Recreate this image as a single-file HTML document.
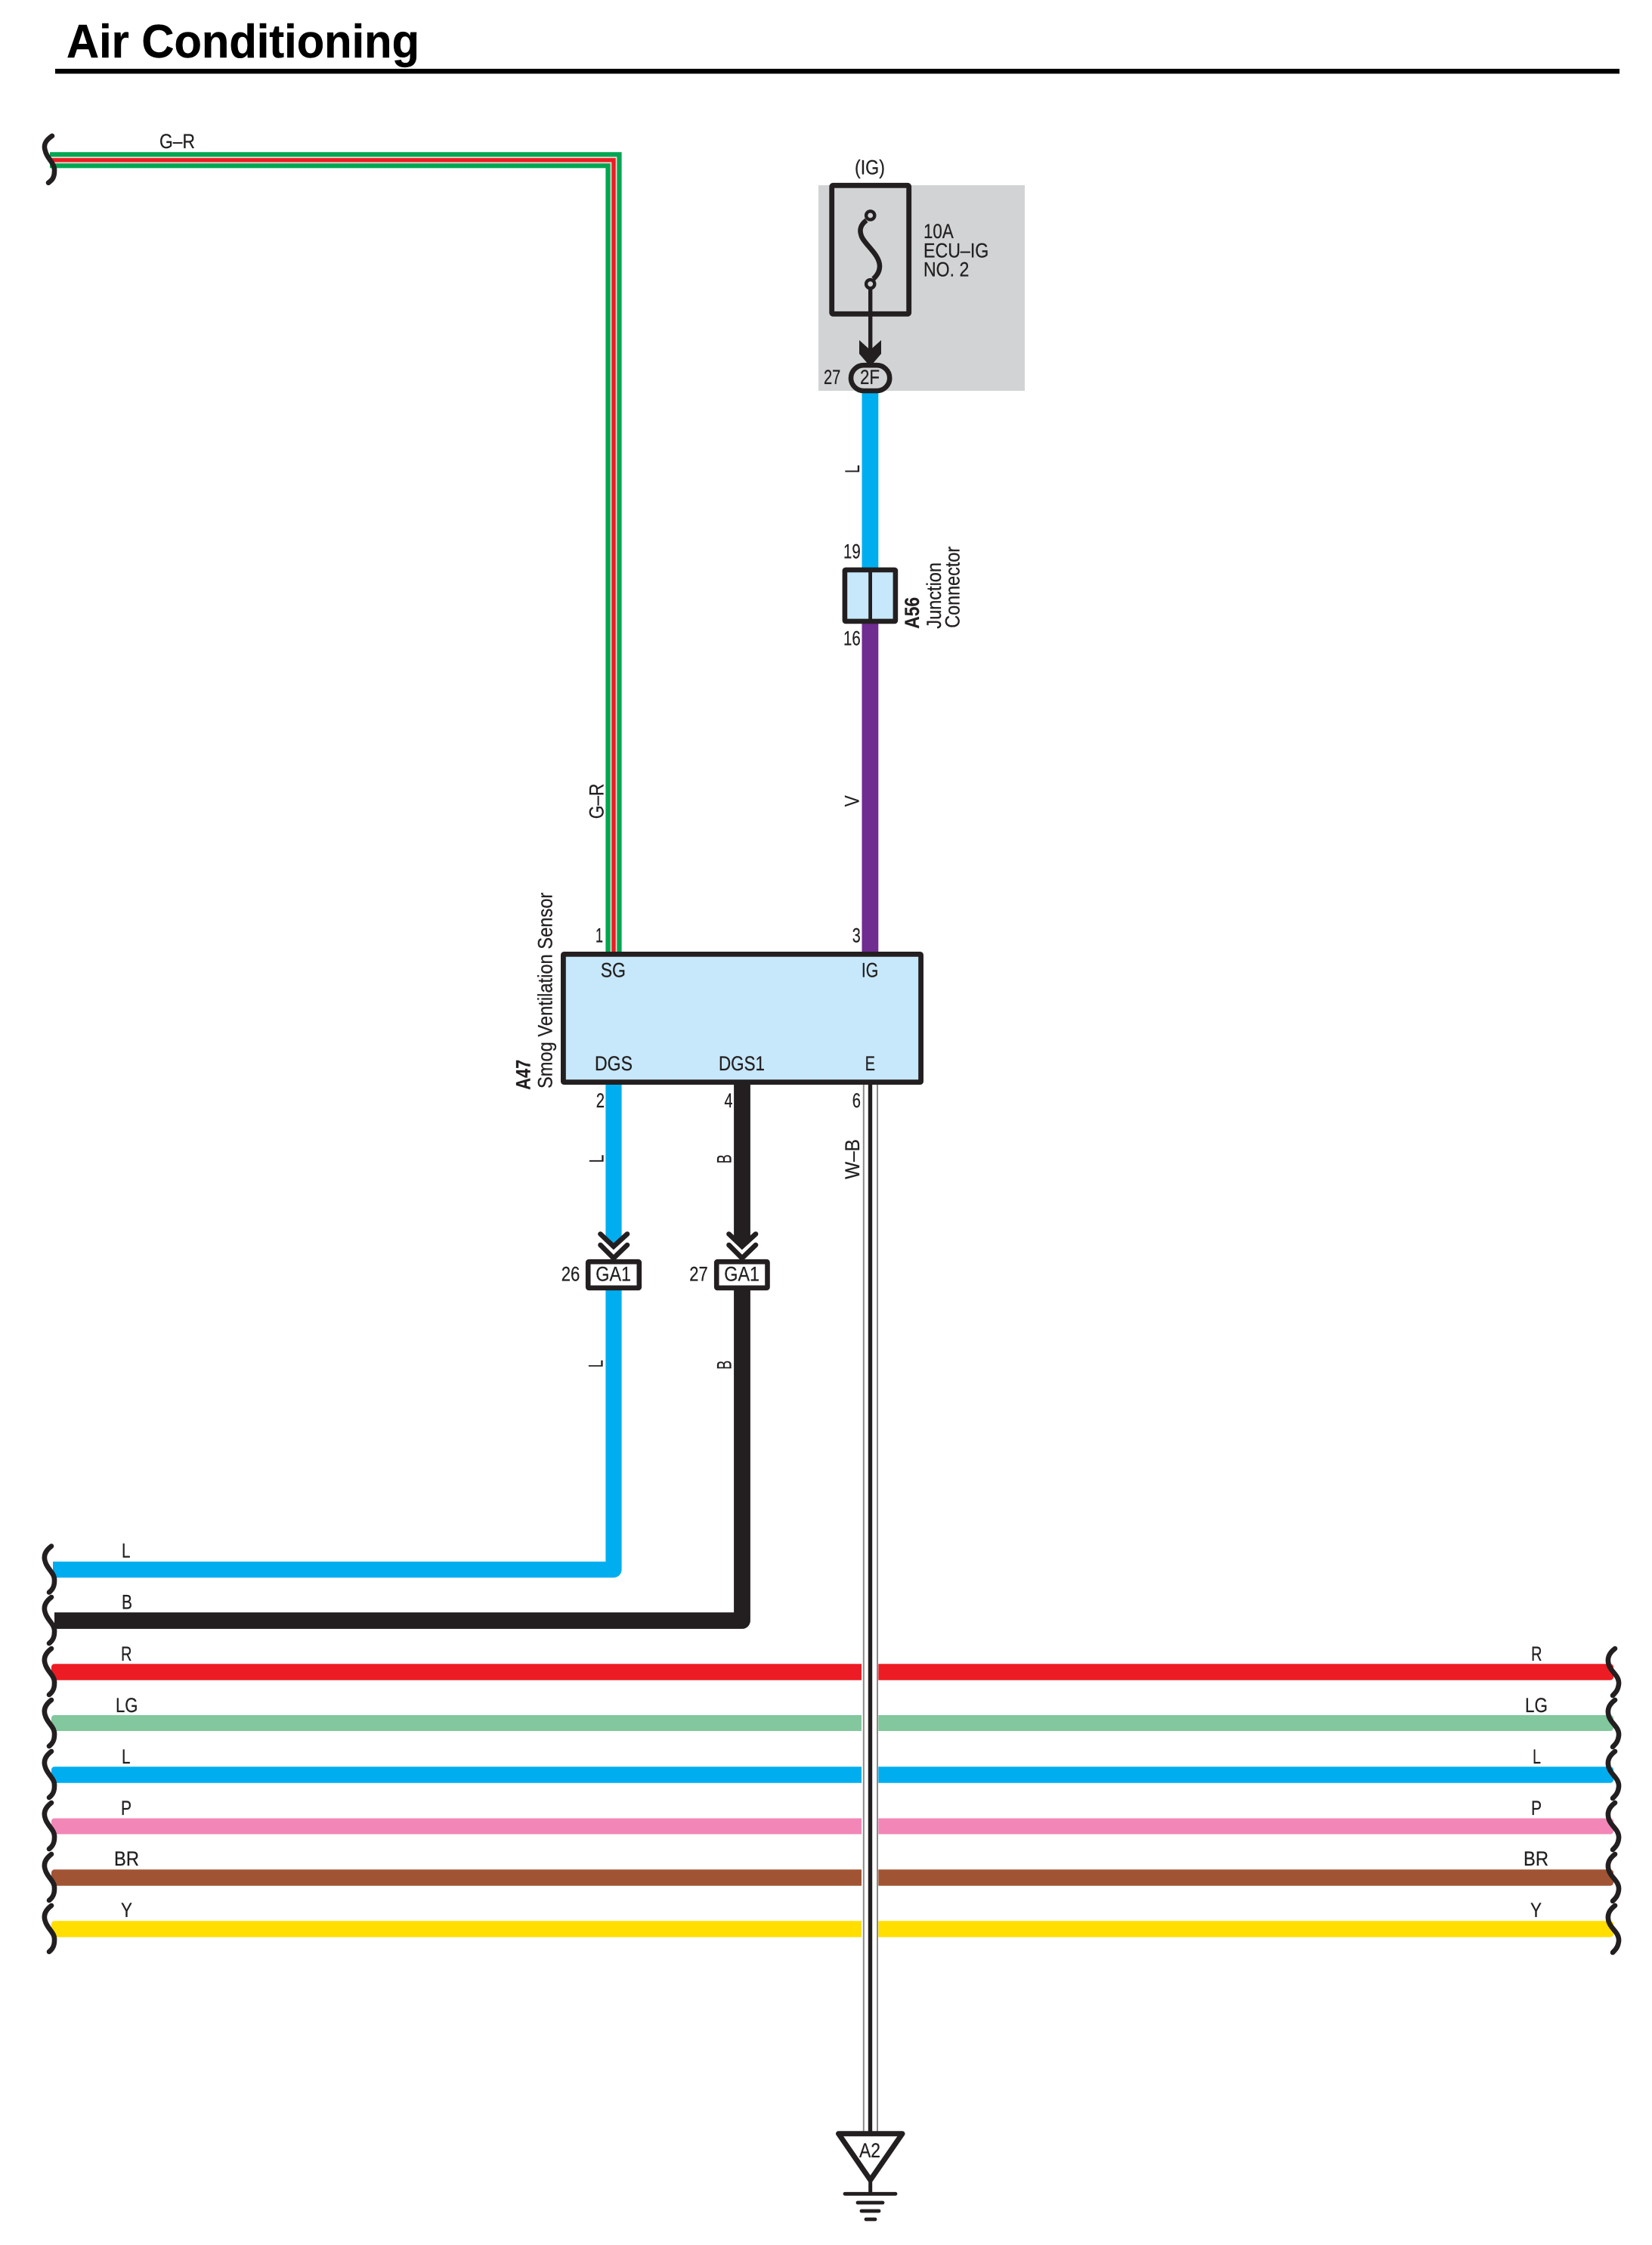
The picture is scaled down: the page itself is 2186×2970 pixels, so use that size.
<!DOCTYPE html>
<html lang="en">
<head>
<meta charset="utf-8">
<title>Air Conditioning</title>
<style>
html,body{margin:0;padding:0;background:#fff}
svg{display:block}
text{font-family:"Liberation Sans",Arial,sans-serif;fill:#231f20;font-size:27px;stroke:#231f20;stroke-width:.25px}
.b{font-weight:bold}
.t{fill:#000;stroke:#000;stroke-width:.4px}
</style>
</head>
<body>
<svg xmlns="http://www.w3.org/2000/svg" width="2186" height="2970" viewBox="0 0 2186 2970">
<rect width="2186" height="2970" fill="#fff"/>

<!-- Title -->
<text class="b t" x="88" y="76" style="font-size:62px" textLength="467" lengthAdjust="spacingAndGlyphs">Air Conditioning</text>
<rect x="73" y="91" width="2070" height="6.5" fill="#000"/>

<!-- Fuse block background -->
<rect x="1083" y="245" width="273" height="272" fill="#d1d3d4"/>

<!-- G-R wire -->
<g fill="none" stroke-linejoin="miter">
<path d="M66 211.8H812V1260" stroke="#00a651" stroke-width="21.2"/>
<path d="M66 211.8H812V1260" stroke="#e6e0d4" stroke-width="8.8"/>
<path d="M66 211.8H812V1260" stroke="#ed1c24" stroke-width="5.4"/>
</g>

<!-- Vertical wires -->
<rect x="1140.5" y="515" width="21.8" height="236" fill="#00aeef"/>
<rect x="1140.5" y="824" width="21.8" height="436" fill="#6f2c91"/>

<!-- Signal wires with corners -->
<path d="M70 2076.5H812V1652" fill="none" stroke="#00aeef" stroke-width="21.2" stroke-linejoin="round"/>
<path d="M812 1645V1433" fill="none" stroke="#00aeef" stroke-width="21.2"/>
<path d="M72 2144H982V1650" fill="none" stroke="#231f20" stroke-width="21.8" stroke-linejoin="round"/>
<path d="M982 1645V1433" fill="none" stroke="#231f20" stroke-width="21.8"/>
<rect x="795" y="1640" width="36" height="26" fill="#fff"/>
<rect x="965" y="1640" width="36" height="26" fill="#fff"/>
<path d="M801.7 1636H822.3V1642L812 1652L801.7 1642Z" fill="#00aeef"/>
<path d="M971 1636H993V1642L982 1652L971 1642Z" fill="#231f20"/>

<!-- Horizontal bus wires -->
<rect x="68" y="2201.3" width="2067" height="21.4" rx="4" fill="#ed1c24"/>
<rect x="68" y="2269" width="2067" height="21" rx="4" fill="#82c79d"/>
<rect x="68" y="2337.3" width="2067" height="21.4" rx="4" fill="#00aeef"/>
<rect x="68" y="2405.5" width="2067" height="21" rx="4" fill="#f287b7"/>
<rect x="68" y="2473.3" width="2067" height="21.4" rx="4" fill="#a15434"/>
<rect x="68" y="2541.3" width="2067" height="21.4" rx="4" fill="#ffde00"/>
<rect x="1140" y="2190" width="22.3" height="385" fill="#fff"/>

<!-- W-B wire -->
<rect x="1141.8" y="1433" width="2" height="1390" fill="#8a8a8a"/>
<rect x="1160" y="1433" width="2" height="1390" fill="#8a8a8a"/>
<rect x="1148.8" y="1433" width="5.4" height="1390" fill="#231f20"/>

<!-- Wire breaks -->
<g fill="none" stroke="#231f20" stroke-width="6.6" stroke-linecap="round">
<path d="M69 -32C60 -26 57 -20 60 -12C62 -2 73 4 72 15C72 24 68 27 64 30" transform="translate(0,211.8)"/>
<path d="M68 -31C60 -25 57 -18 60 -10C63 0 73 5 72 15C72 23 69 27 65 30" transform="translate(0,2076.5)"/>
<path d="M68 -31C60 -25 57 -18 60 -10C63 0 73 5 72 15C72 23 69 27 65 30" transform="translate(0,2144)"/>
<path d="M68 -31C60 -25 57 -18 60 -10C63 0 73 5 72 15C72 23 69 27 65 30" transform="translate(0,2212)"/>
<path d="M68 -31C60 -25 57 -18 60 -10C63 0 73 5 72 15C72 23 69 27 65 30" transform="translate(0,2280)"/>
<path d="M68 -31C60 -25 57 -18 60 -10C63 0 73 5 72 15C72 23 69 27 65 30" transform="translate(0,2348)"/>
<path d="M68 -31C60 -25 57 -18 60 -10C63 0 73 5 72 15C72 23 69 27 65 30" transform="translate(0,2416)"/>
<path d="M68 -31C60 -25 57 -18 60 -10C63 0 73 5 72 15C72 23 69 27 65 30" transform="translate(0,2484)"/>
<path d="M68 -31C60 -25 57 -18 60 -10C63 0 73 5 72 15C72 23 69 27 65 30" transform="translate(0,2552)"/>
<path d="M2137 -31C2129 -25 2126 -18 2129 -9C2132 0 2143 5 2142 16C2141 24 2138 27 2134 31" transform="translate(0,2212)"/>
<path d="M2137 -31C2129 -25 2126 -18 2129 -9C2132 0 2143 5 2142 16C2141 24 2138 27 2134 31" transform="translate(0,2280)"/>
<path d="M2137 -31C2129 -25 2126 -18 2129 -9C2132 0 2143 5 2142 16C2141 24 2138 27 2134 31" transform="translate(0,2348)"/>
<path d="M2137 -31C2129 -25 2126 -18 2129 -9C2132 0 2143 5 2142 16C2141 24 2138 27 2134 31" transform="translate(0,2416)"/>
<path d="M2137 -31C2129 -25 2126 -18 2129 -9C2132 0 2143 5 2142 16C2141 24 2138 27 2134 31" transform="translate(0,2484)"/>
<path d="M2137 -31C2129 -25 2126 -18 2129 -9C2132 0 2143 5 2142 16C2141 24 2138 27 2134 31" transform="translate(0,2552)"/>
</g>

<!-- Fuse -->
<rect x="1100.7" y="245.3" width="102" height="170" rx="1.5" fill="none" stroke="#231f20" stroke-width="6.8"/>
<path d="M1146.5 291.5C1139 297 1137 304 1139.5 311C1142 322 1164 336 1164 352C1164 360 1160 365 1155.5 369" fill="none" stroke="#231f20" stroke-width="6.6"/>
<circle cx="1151.7" cy="285" r="5.6" fill="#d1d3d4" stroke="#231f20" stroke-width="4.4"/>
<circle cx="1151.7" cy="375.7" r="5.6" fill="#d1d3d4" stroke="#231f20" stroke-width="4.4"/>
<rect x="1149" y="381.5" width="5.4" height="85" fill="#231f20"/>
<path d="M1137 450L1151.5 463L1166 450V468L1151.5 485L1137 468Z" fill="#231f20"/>
<rect x="1126" y="483.2" width="51.2" height="33.8" rx="16.9" fill="#d1d3d4" stroke="#231f20" stroke-width="6.6"/>

<!-- Junction connector -->
<rect x="1117.9" y="753.9" width="67" height="68" rx="1" fill="#c7e8fa" stroke="#231f20" stroke-width="6.6"/>
<rect x="1149.2" y="753" width="4.8" height="70" fill="#231f20"/>

<!-- Sensor box -->
<rect x="745.4" y="1262.4" width="473.2" height="169.2" rx="1" fill="#c7e8fa" stroke="#231f20" stroke-width="6.8"/>

<!-- Chevrons -->
<path d="M794.5 1632.5L811.9 1649L830 1632.5M964.5 1632.5L981.9 1649L1000 1632.5" fill="none" stroke="#231f20" stroke-width="6.6" stroke-linecap="round"/>
<path d="M794.5 1647L811.9 1664.5L830 1647M964.5 1647L981.9 1664.5L1000 1647" fill="none" stroke="#231f20" stroke-width="6.6" stroke-linecap="round"/>

<!-- GA1 connectors -->
<rect x="778.2" y="1669.2" width="67.6" height="34.6" rx="1" fill="#fff" stroke="#231f20" stroke-width="6.6"/>
<rect x="948.2" y="1669.2" width="67.3" height="34.6" rx="1" fill="#fff" stroke="#231f20" stroke-width="6.6"/>

<!-- Ground -->
<path d="M1109.5 2822.7H1194L1151.7 2884Z" fill="#fff" stroke="#231f20" stroke-width="7" stroke-linejoin="round"/>
<rect x="1149.2" y="2882" width="5" height="20" fill="#231f20"/>
<g stroke="#231f20" stroke-width="4.8" stroke-linecap="round">
<path d="M1118 2902.3H1185"/>
<path d="M1135 2914H1168"/>
<path d="M1140 2925H1163"/>
<path d="M1146 2936H1158"/>
</g>

<!-- Labels: horizontal -->
<g>
<text x="211" y="196" textLength="47" lengthAdjust="spacingAndGlyphs">G–R</text>
<text x="1131" y="230.7" textLength="40" lengthAdjust="spacingAndGlyphs">(IG)</text>
<text x="1222" y="315" textLength="39.7" lengthAdjust="spacingAndGlyphs">10A</text>
<text x="1222" y="340.7" textLength="86.3" lengthAdjust="spacingAndGlyphs">ECU–IG</text>
<text x="1222" y="365.7" textLength="60.3" lengthAdjust="spacingAndGlyphs">NO. 2</text>
<text x="1090" y="508" textLength="22.3" lengthAdjust="spacingAndGlyphs">27</text>
<text x="1138" y="508" textLength="26" lengthAdjust="spacingAndGlyphs">2F</text>
<text x="1116" y="738.3" textLength="22.7" lengthAdjust="spacingAndGlyphs">19</text>
<text x="1116" y="853.3" textLength="22.7" lengthAdjust="spacingAndGlyphs">16</text>
<text x="788" y="1246.7" textLength="10" lengthAdjust="spacingAndGlyphs">1</text>
<text x="1127.8" y="1246.7" textLength="11" lengthAdjust="spacingAndGlyphs">3</text>
<text x="794.7" y="1292.7" textLength="33.3" lengthAdjust="spacingAndGlyphs">SG</text>
<text x="1139.9" y="1292.7" textLength="22.5" lengthAdjust="spacingAndGlyphs">IG</text>
<text x="787" y="1416" textLength="50" lengthAdjust="spacingAndGlyphs">DGS</text>
<text x="951" y="1416" textLength="61" lengthAdjust="spacingAndGlyphs">DGS1</text>
<text x="1144.7" y="1416" textLength="13.2" lengthAdjust="spacingAndGlyphs">E</text>
<text x="788.7" y="1465" textLength="11.3" lengthAdjust="spacingAndGlyphs">2</text>
<text x="958.5" y="1465" textLength="11" lengthAdjust="spacingAndGlyphs">4</text>
<text x="1127.8" y="1465" textLength="11.2" lengthAdjust="spacingAndGlyphs">6</text>
<text x="742.7" y="1694.3" textLength="24.6" lengthAdjust="spacingAndGlyphs">26</text>
<text x="912.3" y="1694.3" textLength="24.4" lengthAdjust="spacingAndGlyphs">27</text>
<text x="788.3" y="1694.3" textLength="46.7" lengthAdjust="spacingAndGlyphs">GA1</text>
<text x="958.3" y="1694.3" textLength="46.7" lengthAdjust="spacingAndGlyphs">GA1</text>
<text x="1137" y="2854" textLength="28" lengthAdjust="spacingAndGlyphs">A2</text>

<!-- Bus labels left -->
<text x="161" y="2060.7" textLength="11.5" lengthAdjust="spacingAndGlyphs">L</text>
<text x="161" y="2128.5" textLength="14" lengthAdjust="spacingAndGlyphs">B</text>
<text x="160" y="2197" textLength="14.5" lengthAdjust="spacingAndGlyphs">R</text>
<text x="153" y="2265" textLength="29.5" lengthAdjust="spacingAndGlyphs">LG</text>
<text x="161" y="2333" textLength="11.5" lengthAdjust="spacingAndGlyphs">L</text>
<text x="160" y="2401" textLength="14" lengthAdjust="spacingAndGlyphs">P</text>
<text x="151" y="2468" textLength="33" lengthAdjust="spacingAndGlyphs">BR</text>
<text x="160" y="2536" textLength="15" lengthAdjust="spacingAndGlyphs">Y</text>

<!-- Bus labels right -->
<text x="2026" y="2197" textLength="14.5" lengthAdjust="spacingAndGlyphs">R</text>
<text x="2018" y="2265" textLength="30" lengthAdjust="spacingAndGlyphs">LG</text>
<text x="2028" y="2333" textLength="11" lengthAdjust="spacingAndGlyphs">L</text>
<text x="2026" y="2401" textLength="14" lengthAdjust="spacingAndGlyphs">P</text>
<text x="2016" y="2468" textLength="33" lengthAdjust="spacingAndGlyphs">BR</text>
<text x="2025" y="2536" textLength="15" lengthAdjust="spacingAndGlyphs">Y</text>

<!-- Labels: rotated -->
<text transform="translate(1137 626) rotate(-90)" textLength="11" lengthAdjust="spacingAndGlyphs">L</text>
<text class="b" transform="translate(1216 831.7) rotate(-90)" textLength="41.7" lengthAdjust="spacingAndGlyphs">A56</text>
<text transform="translate(1245 831.7) rotate(-90)" textLength="87.7" lengthAdjust="spacingAndGlyphs">Junction</text>
<text transform="translate(1269.3 830.7) rotate(-90)" textLength="107.7" lengthAdjust="spacingAndGlyphs">Connector</text>
<text transform="translate(798.3 1083.3) rotate(-90)" textLength="46.7" lengthAdjust="spacingAndGlyphs">G–R</text>
<text transform="translate(1136.7 1067.3) rotate(-90)" textLength="15" lengthAdjust="spacingAndGlyphs">V</text>
<text class="b" transform="translate(701.4 1441.7) rotate(-90)" textLength="40" lengthAdjust="spacingAndGlyphs">A47</text>
<text transform="translate(730.4 1440) rotate(-90)" textLength="259.3" lengthAdjust="spacingAndGlyphs">Smog Ventilation Sensor</text>
<text transform="translate(798.3 1538.3) rotate(-90)" textLength="10.5" lengthAdjust="spacingAndGlyphs">L</text>
<text transform="translate(967.3 1539.3) rotate(-90)" textLength="12" lengthAdjust="spacingAndGlyphs">B</text>
<text transform="translate(1137 1560) rotate(-90)" textLength="53" lengthAdjust="spacingAndGlyphs">W–B</text>
<text transform="translate(797.7 1809.3) rotate(-90)" textLength="10" lengthAdjust="spacingAndGlyphs">L</text>
<text transform="translate(967.3 1811.7) rotate(-90)" textLength="12" lengthAdjust="spacingAndGlyphs">B</text>
</g>
</svg>
</body>
</html>
